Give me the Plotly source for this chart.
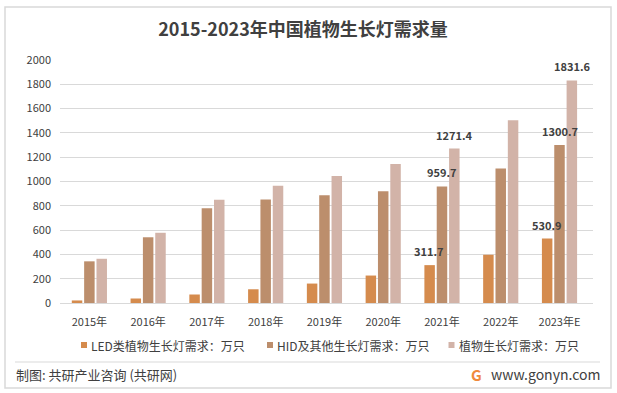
import plotly.graph_objects as go

years = ["2015年", "2016年", "2017年", "2018年", "2019年", "2020年", "2021年", "2022年", "2023年E"]
led = [21, 37, 70, 113, 160, 226, 311.7, 397, 530.9]
hid = [343, 541, 779, 851, 886, 919, 959.7, 1108, 1300.7]
total = [364, 578, 849, 964, 1046, 1145, 1271.4, 1505, 1831.6]
series_names = ["LED类植物生长灯需求：万只", "HID及其他生长灯需求：万只", "植物生长灯需求：万只"]
labeled_years = ["2021年", "2023年E"]
y_ticks = [0, 200, 400, 600, 800, 1000, 1200, 1400, 1600, 1800, 2000]

colors = ["#D58B4D", "#BC8E6C", "#D2B3A8"]
FONT = "Noto Sans CJK SC"
TXT = "#404040"

W, H = 617, 393
L, R, T, B = 60, 24, 60, 90
PW, PH = W - L - R, H - T - B


def px_x(px):
    return (px - L) / PW


def px_y(py):
    return 1 - (py - T) / PH


fig = go.Figure()
for name, vals, c in zip(series_names, [led, hid, total], colors):
    fig.add_trace(go.Bar(
        x=years, y=vals, name=name, marker=dict(color=c, line=dict(width=0)),
        hoverinfo="skip", showlegend=False,
    ))

shapes = [
    dict(type="rect", xref="paper", yref="paper", x0=px_x(5), x1=px_x(611),
         y0=px_y(388), y1=px_y(7), line=dict(color="#D9D9D9", width=1.5), layer="below"),
    dict(type="line", xref="paper", yref="paper", x0=px_x(15), x1=px_x(600),
         y0=px_y(362), y1=px_y(362), line=dict(color="#D9D9D9", width=1)),
]

annotations = []

# value labels (drawn on top of all bars)
offsets = [-13, 0, 13]
for vals, dx in zip([led, hid, total], offsets):
    for yr, v in zip(years, vals):
        if yr in labeled_years:
            annotations.append(dict(
                x=yr, y=v, xref="x", yref="y", text=f"{v:.1f}", showarrow=False,
                xanchor="center", yanchor="bottom", xshift=dx, yshift=4,
                font=dict(family=FONT, size=11, color=TXT, weight="bold")))

# manual legend
legend_marker_x = [84, 270, 451.5]
legend_y = 345
for name, c, mx in zip(series_names, colors, legend_marker_x):
    shapes.append(dict(type="rect", xref="paper", yref="paper",
                       x0=px_x(mx - 3), x1=px_x(mx + 3),
                       y0=px_y(legend_y + 3), y1=px_y(legend_y - 3),
                       fillcolor=c, line=dict(width=0)))
    annotations.append(dict(text=name, xref="paper", yref="paper", x=px_x(mx + 5),
                            y=px_y(legend_y), xanchor="left", yanchor="middle", showarrow=False,
                            font=dict(family=FONT, size=12, color=TXT)))

annotations += [
    dict(text="制图: 共研产业咨询 (共研网)", xref="paper", yref="paper", x=px_x(14), y=px_y(374),
         xanchor="left", yanchor="middle", showarrow=False,
         font=dict(family=FONT, size=13, color=TXT)),
    dict(text="www.gonyn.com", xref="paper", yref="paper", x=px_x(602), y=px_y(374),
         xanchor="right", yanchor="middle", showarrow=False,
         font=dict(family=FONT, size=14, color=TXT)),
    dict(text="<b>G</b>", xref="paper", yref="paper", x=px_x(476), y=px_y(374),
         xanchor="center", yanchor="middle", showarrow=False,
         font=dict(family=FONT, size=15, color="#F08A3C")),
]

fig.update_layout(
    width=W, height=H,
    margin=dict(l=L, r=R, t=T, b=B),
    paper_bgcolor="white", plot_bgcolor="white",
    title=dict(text="<b>2015-2023年中国植物生长灯需求量</b>", x=303 / W, xanchor="center",
               y=1 - 30 / H, yanchor="middle",
               font=dict(family=FONT, size=18, color=TXT)),
    barmode="group", bargap=0.37, bargroupgap=0.15,
    showlegend=False,
    xaxis=dict(showgrid=False, showline=True, linecolor="#D9D9D9", linewidth=1,
               ticks="", tickfont=dict(family=FONT, size=11, color=TXT),
               ticklabelstandoff=9, fixedrange=True),
    yaxis=dict(range=[0, 2000], tickvals=y_ticks, showgrid=True, gridcolor="#D9D9D9",
               gridwidth=1, zeroline=False, showline=False, ticks="",
               tickfont=dict(family=FONT, size=11, color=TXT),
               ticklabelstandoff=8, fixedrange=True),
    shapes=shapes, annotations=annotations,
)

fig.write_html("out.html")
